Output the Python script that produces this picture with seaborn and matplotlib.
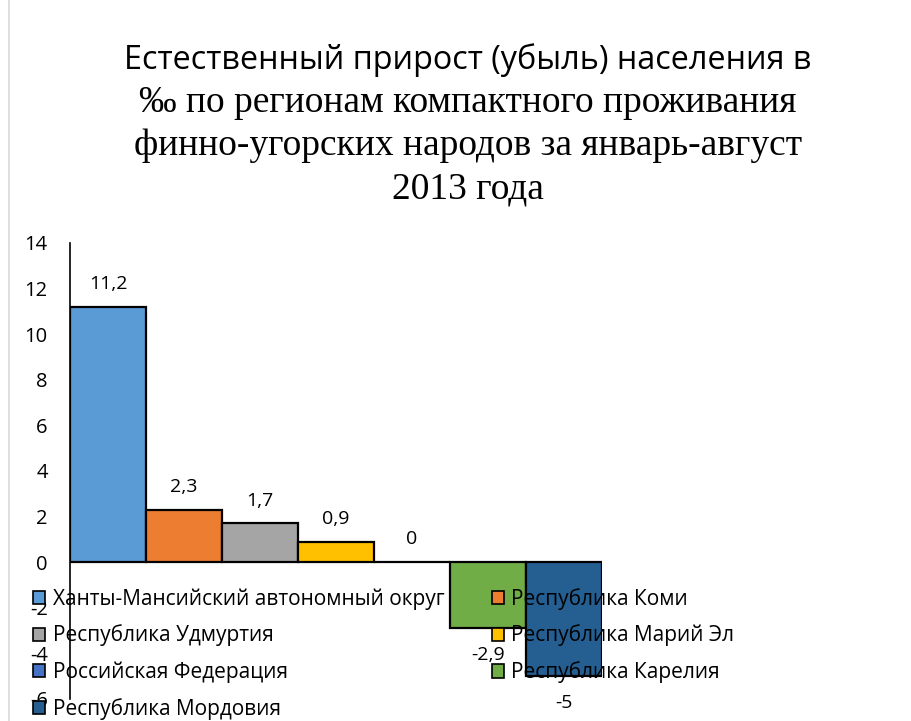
import matplotlib
matplotlib.use("Agg")
import matplotlib.pyplot as plt
import seaborn as sns
import pandas as pd
from matplotlib.patches import Patch
from matplotlib.lines import Line2D

regions = ["Ханты-Мансийский автономный округ", "Республика Коми", "Республика Удмуртия",
           "Республика Марий Эл", "Российская Федерация", "Республика Карелия", "Республика Мордовия"]
values = [11.2, 2.3, 1.7, 0.9, 0.0, -2.9, -5.0]
colors = ["#5B9BD5", "#ED7D31", "#A5A5A5", "#FFC000", "#4472C4", "#70AD47", "#255E91"]
y_ticks = [-6, -4, -2, 0, 2, 4, 6, 8, 10, 12, 14]

df = pd.DataFrame({"region": regions, "value": values})
palette = dict(zip(regions, colors))

sns.set_style("white")
plt.rcParams["font.family"] = ["Open Sans", "DejaVu Sans"]
plt.rcParams["text.color"] = "black"
plt.rcParams["ytick.color"] = "black"

fig = plt.figure(figsize=(9.12, 7.21), dpi=100)
ax = fig.add_axes([70 / 912, 1 - 699 / 721, 532 / 912, 456 / 721])

sns.barplot(data=df, x="region", y="value", hue="region", palette=palette, width=1.0,
            saturation=1, edgecolor="black", linewidth=1.6, legend=False, ax=ax)

ax.set_xlim(-0.5, 6.5)
ax.set_ylim(-6, 14)
ax.set_yticks(y_ticks)
ax.set_yticklabels([str(t) for t in y_ticks], fontsize=14.5)
ax.tick_params(axis="y", length=0, pad=16)
ax.set_xticks([])
ax.set_xlabel("")
ax.set_ylabel("")
for s in ["top", "right", "bottom"]:
    ax.spines[s].set_visible(False)
ax.spines["left"].set_color("black")
ax.spines["left"].set_linewidth(1.2)
ax.axhline(0, color="black", linewidth=1.2, zorder=1)

# value labels
for cont, v in zip(ax.containers, values):
    txt = f"{v:g}".replace(".", ",")
    ax.bar_label(cont, labels=[txt], padding=10 if v >= 0 else 13, fontsize=14)

# legend, row-wise order
order = [0, 2, 4, 6, 1, 3, 5]
handles = [Patch(facecolor=colors[i], edgecolor="black", linewidth=1.2) for i in order]
labels = [regions[i] for i in order]
leg = fig.legend(handles, labels, loc="upper left", bbox_to_anchor=(14 / 912, 1 - 569 / 721),
                 ncol=2, frameon=False, fontsize=15, handlelength=0.6, handleheight=0.6,
                 handletextpad=0.35, columnspacing=2.27, labelspacing=0.72)

# title
title_x = 468 / 912
fig.text(title_x, 1 - 60 / 721, "Естественный прирост (убыль) населения в", ha="center", va="center",
         fontsize=23.3, family=["Open Sans", "DejaVu Sans"])
serif_lines = ["‰ по регионам компактного проживания",
               "финно-угорских народов за январь-август",
               "2013 года"]
for i, line in enumerate(serif_lines):
    fig.text(title_x, 1 - (103 + 43 * i) / 721, line, ha="center", va="center",
             fontsize=27, family=["Liberation Serif", "DejaVu Serif"])

# chart border at left
fig.add_artist(Line2D([9.5 / 912, 9.5 / 912], [0, 1], color="#D9D9D9", linewidth=1.2,
                      transform=fig.transFigure))

fig.savefig("out.png", dpi=100)
